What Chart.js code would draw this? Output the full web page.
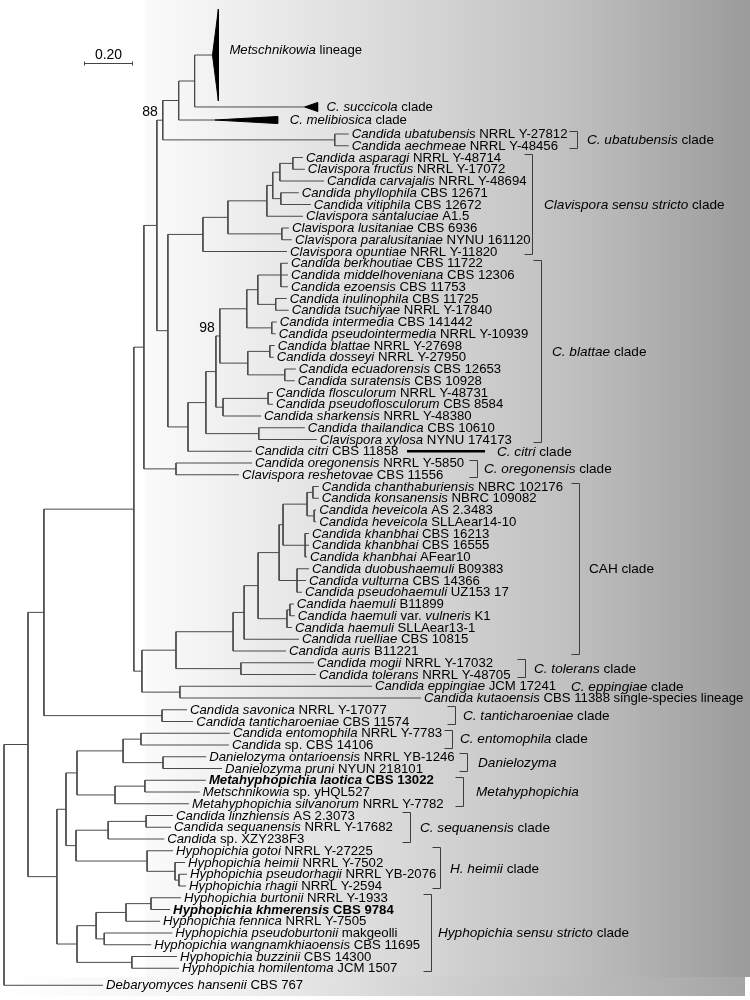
<!DOCTYPE html>
<html><head><meta charset="utf-8">
<script src="https://cdn.jsdelivr.net/npm/chart.js@4.4.1/dist/chart.umd.min.js"></script>
<style>html,body{margin:0;padding:0;background:#fff}#wrap{position:relative;width:750px;height:1000px}canvas{display:block}</style>
</head><body><div id="wrap"><canvas id="c" width="750" height="1000"></canvas></div>
<script>
// ---------------- DATA ----------------
// tip labels, top to bottom (*italic*)
const tipLabels = [
"*Metschnikowia* lineage","*C. succicola* clade","*C. melibiosica* clade",
"*Candida ubatubensis* NRRL Y-27812","*Candida aechmeae* NRRL Y-48456",
"*Candida asparagi* NRRL Y-48714","*Clavispora fructus* NRRL Y-17072","*Candida carvajalis* NRRL Y-48694",
"*Candida phyllophila* CBS 12671","*Candida vitiphila* CBS 12672","*Clavispora santaluciae* A1.5",
"*Clavispora lusitaniae* CBS 6936","*Clavispora paralusitaniae* NYNU 161120","*Clavispora opuntiae* NRRL Y-11820",
"*Candida berkhoutiae* CBS 11722","*Candida middelhoveniana* CBS 12306","*Candida ezoensis* CBS 11753",
"*Candida inulinophila* CBS 11725","*Candida tsuchiyae* NRRL Y-17840","*Candida intermedia* CBS 141442",
"*Candida pseudointermedia* NRRL Y-10939","*Candida blattae* NRRL Y-27698","*Candida dosseyi* NRRL Y-27950",
"*Candida ecuadorensis* CBS 12653","*Candida suratensis* CBS 10928","*Candida flosculorum* NRRL Y-48731",
"*Candida pseudoflosculorum* CBS 8584","*Candida sharkensis* NRRL Y-48380","*Candida thailandica* CBS 10610",
"*Clavispora xylosa* NYNU 174173","*Candida citri* CBS 11858","*Candida oregonensis* NRRL Y-5850",
"*Clavispora reshetovae* CBS 11556","*Candida chanthaburiensis* NBRC 102176","*Candida konsanensis* NBRC 109082",
"*Candida heveicola* AS 2.3483","*Candida heveicola* SLLAear14-10","*Candida khanbhai* CBS 16213",
"*Candida khanbhai* CBS 16555","*Candida khanbhai* AFear10","*Candida duobushaemuli* B09383",
"*Candida vulturna* CBS 14366","*Candida pseudohaemuli* UZ153 17","*Candida haemuli* B11899",
"*Candida haemuli* var. *vulneris* K1","*Candida haemuli* SLLAear13-1","*Candida ruelliae* CBS 10815",
"*Candida auris* B11221","*Candida mogii* NRRL Y-17032","*Candida tolerans* NRRL Y-48705",
"*Candida eppingiae* JCM 17241","*Candida kutaoensis* CBS 11388 single-species lineage",
"*Candida savonica* NRRL Y-17077","*Candida tanticharoeniae* CBS 11574","*Candida entomophila* NRRL Y-7783",
"*Candida* sp. CBS 14106","*Danielozyma ontarioensis* NRRL YB-1246","*Danielozyma pruni* NYUN 218101",
"*Metahyphopichia laotica* CBS 13022","*Metschnikowia* sp. yHQL527","*Metahyphopichia silvanorum* NRRL Y-7782",
"*Candida linzhiensis* AS 2.3073","*Candida sequanensis* NRRL Y-17682","*Candida* sp. XZY238F3",
"*Hyphopichia gotoi* NRRL Y-27225","*Hyphopichia heimii* NRRL Y-7502","*Hyphopichia pseudorhagii* NRRL YB-2076",
"*Hyphopichia rhagii* NRRL Y-2594","*Hyphopichia burtonii* NRRL Y-1933","*Hyphopichia khmerensis* CBS 9784",
"*Hyphopichia fennica* NRRL Y-7505","*Hyphopichia pseudoburtonii* makgeolli","*Hyphopichia wangnamkhiaoensis* CBS 11695",
"*Hyphopichia buzzinii* CBS 14300","*Hyphopichia homilentoma* JCM 1507","*Debaryomyces hansenii* CBS 767"
];
const boldTips = [58, 69];
// rows: regular tips follow their index; these tips sit off the regular grid
const firstRegularTip = 3;
const offGridTips = [0, 1, 2, 75];
const offGridRows = [-6.72, -2.3, -1.19, 72.45];
// collapsed clades (triangles): depth in subst./site and half height in rows
const collapsedTips = [0, 1, 2];
const collapsedDepth = [0.024, 0.053, 0.257];
const collapsedHalfRows = [3.9, 0.38, 0.3];

// tree (Newick, branch lengths in substitutions/site, tN = tipLabels[N])
const newickMetsch = "(((t0:0.073,t1:0.449):0.065,t2:0.147):0.065,(t3:0.057,t4:0.057):0.702)88";
const newickClavispora = "((((((t5:0.041,t6:0.049):0.053,t7:0.180):0.029,(t8:0.073,t9:0.122):0.033):0.024,t10:0.147):0.159,(t11:0.029,t12:0.041):0.220):0.102,t13:0.343)";
const newickBlattae = "(((((((t14:0.029,t15:0.029,t16:0.029):0.094,(t17:0.045,t18:0.053):0.073):0.045,(t19:0.020,t20:0.016):0.102):0.110,((t21:0.020,t22:0.016):0.090,(t23:0.045,t24:0.041):0.151):0.114)98:0.016,((t25:0.020,t26:0.020):0.184,t27:0.155):0.029):0.041,(t28:0.188,t29:0.237):0.216):0.073,t30:0.261)";
const newickCAH = "(((((t33:0.024,t34:0.024):0.024,(t35:0.008,t36:0.008):0.029):0.098,(t37:0.016,t38:0.016,t39:0.008):0.090):0.016,(t40:0.049,t41:0.037,t42:0.020):0.073):0.086,((t43:0.016,t44:0.020):0.012,t45:0.020):0.118)";
const newickEntomo = "(((t54:0.363,t55:0.359):0.073,(t56:0.176,t57:0.241):0.163):0.188,((t58:0.249,t59:0.224):0.122,t60:0.302):0.155)";
const newickSequan = "(((t61:0.110,t62:0.102):0.155,t63:0.229):0.131,(t64:0.106,(t65:0.041,(t66:0.033,t67:0.029):0.016):0.114):0.290)";
const newickHyphopichia = "((((t68:0.122,t69:0.078):0.102,t70:0.139):0.122,(t71:0.278,t72:0.192):0.033):0.078,(t73:0.184,t74:0.192):0.224)";
const newickH = `(((${newickCAH}:0.057,t46:0.224):0.045,t47:0.216):0.233,(t48:0.298,t49:0.306):0.265)`;
const newickD = `(${newickMetsch}:0.024,(${newickClavispora}:0.143,${newickBlattae}:0.082):0.045)`;
const newickE = `(${newickD}:0.053,(t31:0.310,t32:0.257):0.131)`;
const newickG = `(${newickH}:0.139,(t50:0.784,t51:0.984):0.155)`;
const newickUpper = `((${newickE}:0.041,${newickG}:0.033):0.367,(t52:0.102,t53:0.127):0.482)`;
const newickLower = `((${newickEntomo}:0.045,${newickSequan}:0.041):0.037,${newickHyphopichia}:0.082)`;
const treeNewick = `((${newickUpper}:0.065,${newickLower}:0.118):0.098,t75:0.404);`;

// clade annotations
const cladeNames = ["*C. ubatubensis* clade","*Clavispora sensu stricto* clade","*C. blattae* clade","*C. citri* clade",
  "*C. oregonensis* clade","CAH clade","*C. tolerans* clade","*C. eppingiae* clade","*C. tanticharoeniae* clade",
  "*C. entomophila* clade","*Danielozyma*","*Metahyphopichia*","*C. sequanensis* clade","*H. heimii* clade",
  "*Hyphopichia sensu stricto* clade"];
const cladeFirstTip = [3,5,14,30,31,33,48,50,52,54,56,58,61,64,68];
const cladeLastTip  = [4,13,29,30,32,47,49,50,53,55,57,60,63,67,74];
const scaleBarValue = 0.20;
const scaleBarLabel = "0.20";

// ---------------- LAYOUT (pixels / styles) ----------------
const PX_PER_UNIT = 245, ROOT_PX = 4, ROW0_PX = 134, ROW_PX = 11.75;
const cladeBracketPx = [577,532,541,null,477,579,525,null,455,452,467,463,410,440,431];
const cladeLabelPx   = [587,544,552,497,484,589,534,571,463,460,478,476,420,450,438];
const citriBarPx = [407,485];
const collapsedLabelGap = [11, 9, 12];
const collapsedLabelDy = [-5, 0, 0];
const FONT = '"Liberation Sans", Arial, Helvetica, sans-serif';
const TIP_SIZE = 13.2, CLADE_SIZE = 13.6;

// ---------------- TREE ----------------
function parseNewick(s){
  let i=0;
  function node(){
    const n={children:[],name:'',len:0};
    if(s[i]==='('){ i++; n.children.push(node()); while(s[i]===','){i++; n.children.push(node());}
      if(s[i]!==')') throw new Error('newick error at '+i); i++; }
    let m=/^[^:,();]*/.exec(s.slice(i)); n.name=m[0]; i+=m[0].length;
    if(s[i]===':'){ i++; m=/^[0-9.eE+-]+/.exec(s.slice(i)); n.len=parseFloat(m[0]); i+=m[0].length; }
    return n;
  }
  return node();
}
function tipRow(idx){ const k=offGridTips.indexOf(idx); return k>=0?offGridRows[k]:idx-firstRegularTip; }
const root=parseNewick(treeNewick);
const tipsNodes=[]; const internals=[];
(function lay(n,d){ n.x=d+n.len;
  if(!n.children.length){ n.tip=parseInt(n.name.slice(1)); n.y=tipRow(n.tip); tipsNodes[n.tip]=n; }
  else { n.children.forEach(c=>lay(c,n.x)); n.y=(n.children[0].y+n.children[n.children.length-1].y)/2; internals.push(n); }
})(root,0);

const treePts=[];
function seg(x1,y1,x2,y2){ treePts.push({x:x1,y:y1},{x:x2,y:y2},{x:null,y:null}); }
internals.forEach(n=>{
  const a=n.children[0], b=n.children[n.children.length-1];
  seg(n.x,a.y,n.x,b.y);
  n.children.forEach(c=>seg(n.x,c.y,c.x,c.y));
});
seg(root.x, root.y, root.x, root.y);
const triSets = collapsedTips.map((t,k)=>{
  const n=tipsNodes[t], d=collapsedDepth[k], h=collapsedHalfRows[k];
  return {data:[{x:n.x,y:n.y},{x:n.x+d,y:n.y-h},{x:n.x+d,y:n.y+h},{x:n.x,y:n.y}],
    showLine:true, fill:'shape', backgroundColor:'#000', borderColor:'#000', borderWidth:1, pointRadius:0, tension:0};
});

function parseMarkup(t){ return t.split(/(\*[^*]+\*)/).filter(s=>s.length).map(s=>s[0]==='*'?{t:s.slice(1,-1),it:true}:{t:s,it:false}); }
function drawRich(ctx,text,x,y,size,bold){
  let cx=x;
  parseMarkup(text).forEach(p=>{
    ctx.font=(p.it?'italic ':'')+(bold?'bold ':'')+size+'px '+FONT;
    ctx.fillText(p.t,cx,y); cx+=ctx.measureText(p.t).width;
  });
  return cx;
}

const bgPlugin={id:'bg',beforeDraw(chart){
  const ctx=chart.ctx; ctx.save();
  ctx.fillStyle='#fff'; ctx.fillRect(0,0,750,1000);
  let g=ctx.createLinearGradient(145,0,750,0);
  g.addColorStop(0,'#fbfbfb'); g.addColorStop(0.45,'#d6d6d6'); g.addColorStop(0.7,'#c0c0c0'); g.addColorStop(1,'#9b9b9b');
  ctx.fillStyle=g; ctx.fillRect(145,0,605,977);
  g=ctx.createLinearGradient(0,0,745,0);
  g.addColorStop(0,'#ffffff'); g.addColorStop(0.3,'#f2f2f2'); g.addColorStop(0.6,'#cfcfcf'); g.addColorStop(1,'#a5a5a5');
  ctx.fillStyle=g; ctx.fillRect(0,977,745,19);
  ctx.restore();
}};

const labelPlugin={id:'labels',afterDatasetsDraw(chart){
  const ctx=chart.ctx, X=chart.scales.x, Y=chart.scales.y;
  ctx.save(); ctx.fillStyle='#000'; ctx.textBaseline='middle'; ctx.textAlign='left';
  tipLabels.forEach((lab,i)=>{
    const n=tipsNodes[i]; let px=X.getPixelForValue(n.x)+3, py=Y.getPixelForValue(n.y)+0.5;
    const k=collapsedTips.indexOf(i);
    if(k>=0){ px=X.getPixelForValue(n.x+collapsedDepth[k])+collapsedLabelGap[k]; py+=collapsedLabelDy[k]; }
    drawRich(ctx,lab,px,py,TIP_SIZE,boldTips.includes(i));
  });
  // support values
  ctx.textAlign='right'; ctx.font='14px '+FONT;
  internals.forEach(n=>{ if(/^\d+$/.test(n.name)) ctx.fillText(n.name, X.getPixelForValue(n.x)-5, Y.getPixelForValue(n.y)-8); });
  // clade brackets & labels
  ctx.textAlign='left'; ctx.strokeStyle='#3c3c3c'; ctx.lineWidth=1;
  cladeNames.forEach((nm,i)=>{
    const y1=Y.getPixelForValue(tipRow(cladeFirstTip[i])), y2=Y.getPixelForValue(tipRow(cladeLastTip[i]));
    const bx=cladeBracketPx[i];
    if(bx!==null){ const xb=Math.round(bx)+0.5, t=Math.round(y1-3.5)+0.5, b=Math.round(y2+2.5)+0.5;
      ctx.beginPath(); ctx.moveTo(xb-8,t); ctx.lineTo(xb,t); ctx.lineTo(xb,b); ctx.lineTo(xb-8,b); ctx.stroke(); }
    drawRich(ctx,nm,cladeLabelPx[i],(y1+y2)/2+0.5,CLADE_SIZE,false);
  });
  // citri bar
  const cy=Y.getPixelForValue(tipRow(30));
  ctx.strokeStyle='#000'; ctx.lineWidth=2.5; ctx.beginPath(); ctx.moveTo(citriBarPx[0],cy); ctx.lineTo(citriBarPx[1],cy); ctx.stroke();
  // scale bar
  const sx0=84, sv=X.getValueForPixel(sx0), sx1=X.getPixelForValue(sv+scaleBarValue), sy=63.5;
  ctx.strokeStyle='#444'; ctx.lineWidth=1; ctx.beginPath();
  ctx.moveTo(sx0,sy); ctx.lineTo(sx1,sy); ctx.moveTo(sx0+0.5,sy-2); ctx.lineTo(sx0+0.5,sy+2); ctx.moveTo(sx1-0.5,sy-2); ctx.lineTo(sx1-0.5,sy+2); ctx.stroke();
  ctx.textAlign='center'; ctx.font='14px '+FONT; ctx.fillText(scaleBarLabel,(sx0+sx1)/2,55);
  ctx.restore();
}};

new Chart(document.getElementById('c'),{
  type:'scatter',
  data:{datasets:[{data:treePts, showLine:true, borderColor:'#4a4a4a', borderWidth:1, pointRadius:0, spanGaps:false, tension:0, fill:false}].concat(triSets)},
  options:{responsive:false, animation:false, devicePixelRatio:1, events:[], layout:{padding:0},
    plugins:{legend:{display:false}, tooltip:{enabled:false}},
    scales:{x:{type:'linear', display:false, min:-ROOT_PX/PX_PER_UNIT, max:(750-ROOT_PX)/PX_PER_UNIT},
            y:{type:'linear', display:false, reverse:true, min:-ROW0_PX/ROW_PX, max:(1000-ROW0_PX)/ROW_PX}}},
  plugins:[bgPlugin,labelPlugin]
});
</script></body></html>
